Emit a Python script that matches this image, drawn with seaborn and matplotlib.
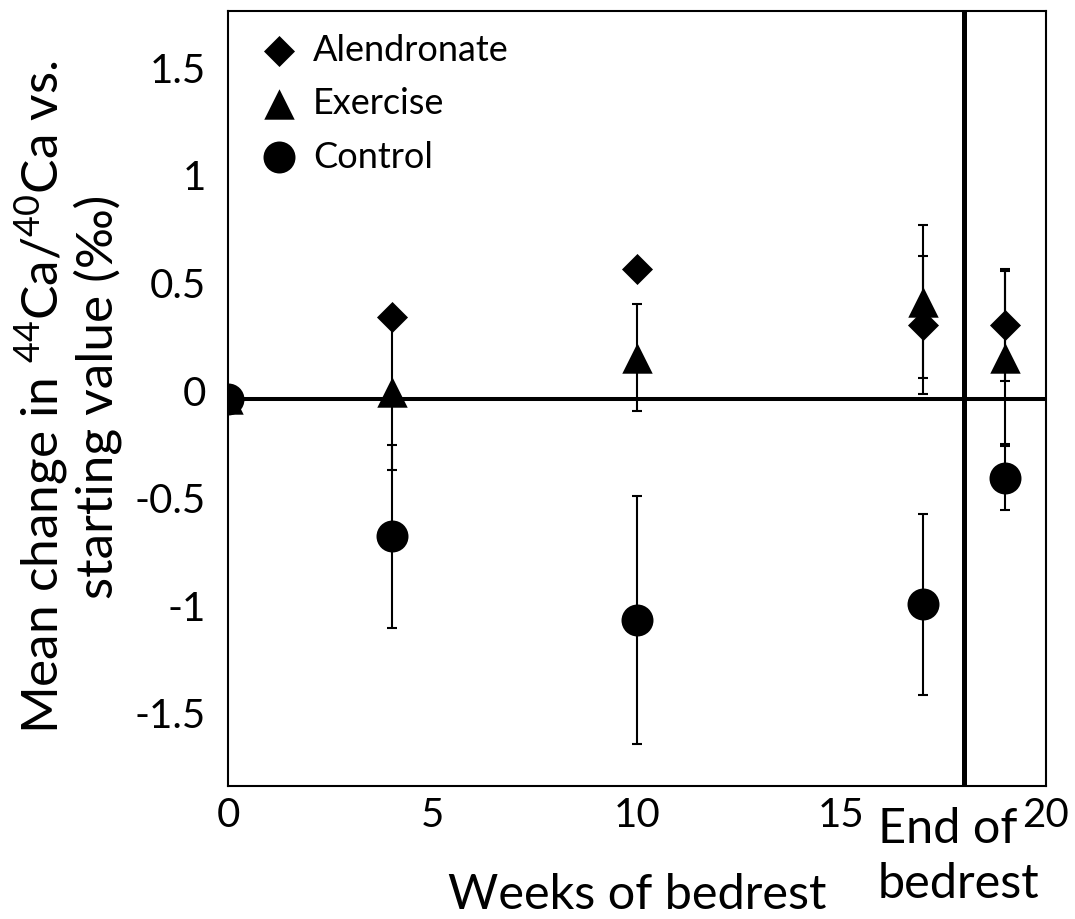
import numpy as np
import pandas as pd
import matplotlib
matplotlib.use("Agg")
import matplotlib.pyplot as plt
import seaborn as sns
from matplotlib.transforms import ScaledTranslation

# ---------------- data ----------------
weeks = [0, 4, 10, 17, 19]
alendronate = [0.0, 0.38, 0.60, 0.34, 0.34]
alendronate_err = [np.nan, np.nan, np.nan, 0.32, 0.26]
exercise = [0.0, 0.03, 0.19, 0.45, 0.19]
exercise_err = [np.nan, 0.36, 0.25, 0.355, 0.40]
control = [0.0, -0.64, -1.03, -0.955, -0.37]
control_err = [np.nan, 0.425, 0.576, 0.42, 0.148]
groups = ["Alendronate", "Exercise", "Control"]
end_of_bedrest = 18
end_label_lines = ["End of", "bedrest"]
x_ticks = [0, 5, 10, 15, 20]
y_ticks = [-1.5, -1, -0.5, 0, 0.5, 1, 1.5]
y_tick_labels = ["-1.5", "-1", "-0.5", "0", "0.5", "1", "1.5"]

values = {"Alendronate": alendronate, "Exercise": exercise, "Control": control}
errors = {"Alendronate": alendronate_err, "Exercise": exercise_err, "Control": control_err}
df = pd.concat(
    [pd.DataFrame({"week": weeks, "change": values[g], "err": errors[g], "group": g}) for g in groups],
    ignore_index=True,
)

# ---------------- style ----------------
sns.set_style("white")
plt.rcParams["font.family"] = ["Lato", "DejaVu Sans"]
plt.rcParams["mathtext.fontset"] = "custom"
plt.rcParams["mathtext.rm"] = "Lato"
plt.rcParams["mathtext.default"] = "regular"
plt.rcParams["text.color"] = "black"
plt.rcParams["axes.labelcolor"] = "black"

markers = {"Alendronate": "D", "Exercise": "^", "Control": "o"}
msize = {"Alendronate": 250, "Exercise": 480, "Control": 530}

fig = plt.figure(figsize=(10.75, 9.2), dpi=100)
ax = fig.add_axes([228 / 1075, 1 - 787 / 920, (1046 - 228) / 1075, (787 - 12) / 920])

# reference lines
ax.axhline(0, color="black", lw=2.9, zorder=1.5)
ax.axvline(end_of_bedrest, color="black", lw=3.6, zorder=1.5)

# error bars
for g in groups:
    sub = df[(df["group"] == g) & df["err"].notna()]
    ax.errorbar(sub["week"], sub["change"], yerr=sub["err"], fmt="none",
                ecolor="black", elinewidth=1.5, capsize=3.3, capthick=1.5, zorder=2)

# markers
for g in groups:
    sns.scatterplot(data=df[df["group"] == g], x="week", y="change", marker=markers[g],
                    s=msize[g], color="black", edgecolor="black", linewidth=0,
                    label=g, ax=ax, zorder=3)

ax.set_xlim(0, 20)
ax.set_ylim(-1.8, 1.8)
ax.set_xticks(x_ticks)
ax.set_xticklabels([str(t) for t in x_ticks])
ax.set_yticks(y_ticks)
ax.set_yticklabels(y_tick_labels)
ax.tick_params(axis="both", length=0, labelsize=29, colors="black")
ax.tick_params(axis="x", pad=7)
ax.tick_params(axis="y", pad=16)
for lab in ax.get_yticklabels():
    lab.set_transform(lab.get_transform() + ScaledTranslation(0, 0.09, fig.dpi_scale_trans))

for sp in ax.spines.values():
    sp.set_visible(True)
    sp.set_color("black")
    sp.set_linewidth(1.5)

ax.set_xlabel("Weeks of bedrest", fontsize=35, labelpad=28)
ax.set_ylabel("Mean change in $^{44}$Ca/$^{40}$Ca vs.\nstarting value (‰)", fontsize=37,
              linespacing=1.05)
ax.yaxis.set_label_coords(-0.130, 0.503)

# "End of / bedrest" annotation below the vertical line (left aligned, two lines)
for line, dy in zip(end_label_lines, [-40, -80]):
    ax.annotate(line, xy=(end_of_bedrest, 0), xycoords=("data", "axes fraction"),
                xytext=(-62, dy), textcoords="offset points", ha="left", va="baseline",
                fontsize=35, annotation_clip=False)

leg = ax.legend(loc="upper left", bbox_to_anchor=(0.011, 0.997), frameon=False, fontsize=26,
                handletextpad=0.35, labelspacing=0.56, borderaxespad=0.15, handlelength=1.2)

fig.savefig("out.png", dpi=100)
